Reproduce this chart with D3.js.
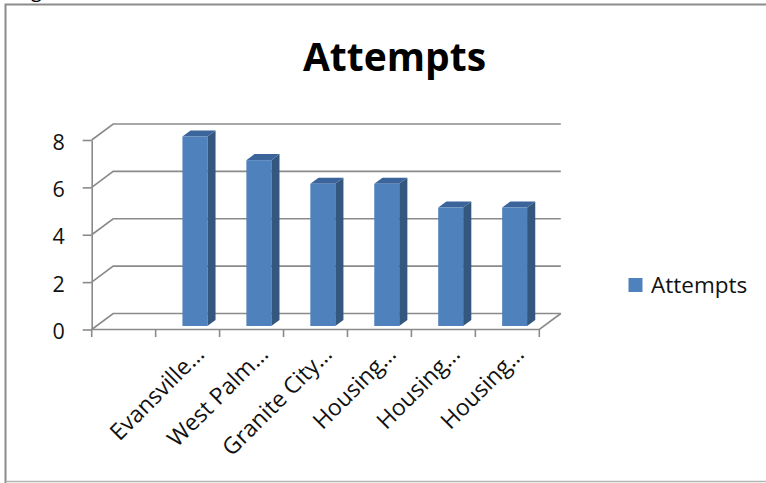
<!DOCTYPE html>
<html>
<head>
<meta charset="utf-8">
<script src="https://cdn.jsdelivr.net/npm/d3@7"></script>
<style>
  html, body { margin: 0; padding: 0; background: #fff; }
  svg { display: block; font-family: "Open Sans", "Liberation Sans", sans-serif; }
</style>
</head>
<body>
<svg id="chart" width="766" height="483"></svg>
<script>
// Chart data
const chartTitle = "Attempts";
const seriesName = "Attempts";
const categories = ["", "Evansville…", "West Palm…", "Granite City…", "Housing…", "Housing…", "Housing…"];
const attempts = [null, 8, 7, 6, 6, 5, 5];
const yTicks = [0, 2, 4, 6, 8];

const svg = d3.select("#chart");

// 3D projection of the plot box: depth offset of the back wall
const depth = { dx: 21.5, dy: -16 };
const barFront = 0.22, barBack = 0.6;       // bar depth as fractions of the box depth
const barStart = 0.345, barEnd = 0.735;     // bar extent across its category band

const x = d3.scaleBand()
  .domain(d3.range(categories.length))
  .range([91.7, 539.3])
  .padding(0);
const y = d3.scaleLinear().domain([0, 8]).range([329.5, 140]);

const gridColor = "#8a8a8a";

// Outer frame
svg.append("path")
  .attr("d", "M5.5,490 L5.5,4.5 L780,4.5")
  .attr("fill", "none").attr("stroke", "#8c8c8c").attr("stroke-width", 2);
svg.append("line")
  .attr("x1", 5.5).attr("x2", 780).attr("y1", 481.5).attr("y2", 481.5)
  .attr("stroke", "#b4b4b4").attr("stroke-width", 1.5);
// Tail of the preceding line of text above the chart frame
svg.append("text")
  .attr("x", 31).attr("y", -3)
  .attr("font-size", 20).attr("fill", "#000")
  .text("g");

// Title
svg.append("text")
  .attr("x", 394.5).attr("y", 71)
  .attr("text-anchor", "middle")
  .attr("font-size", 39).attr("font-weight", 700).attr("fill", "#000")
  .text(chartTitle);

// Walls and gridlines
const x0 = x.range()[0], x1 = x.range()[1];
const grid = svg.append("g").attr("fill", "none").attr("stroke", gridColor).attr("stroke-width", 1.6);
yTicks.forEach(t => {
  const yy = y(t);
  grid.append("path")
    .attr("d", `M${x0},${yy} L${x0 + depth.dx},${yy + depth.dy} L${x1 + depth.dx},${yy + depth.dy}`);
});
// Floor: front edge and right edge
grid.append("path")
  .attr("d", `M${x0},${y(0)} L${x1},${y(0)} L${x1 + depth.dx},${y(0) + depth.dy}`);

// Value axis
const yAxis = d3.axisLeft(y)
  .tickValues(yTicks)
  .tickSizeInner(9)
  .tickSizeOuter(0)
  .tickPadding(18);
const yg = svg.append("g").attr("transform", `translate(${x0},0)`).call(yAxis);
yg.select(".domain").attr("stroke", gridColor).attr("stroke-width", 1.6);
yg.selectAll(".tick line").attr("stroke", gridColor).attr("stroke-width", 1.6);
yg.selectAll(".tick text")
  .attr("font-size", 21.5).attr("font-family", "Open Sans")
  .attr("fill", "#111").attr("dy", "0.42em");

// Category axis: tick marks at band boundaries
const bounds = d3.range(categories.length + 1).map(i => x0 + i * x.step());
svg.append("g").selectAll("line").data(bounds).join("line")
  .attr("x1", d => d).attr("x2", d => d)
  .attr("y1", y(0)).attr("y2", y(0) + 7.5)
  .attr("stroke", gridColor).attr("stroke-width", 1.6);

svg.append("g").selectAll("text").data(categories).join("text")
  .attr("transform", (d, i) => `translate(${x(i) + x.bandwidth() / 2 + 18},${y(0) + 26}) rotate(-45)`)
  .attr("text-anchor", "end")
  .attr("font-size", 23).attr("fill", "#111")
  .text(d => d);

// Bars
const P = (px, py, f) => [px + f * depth.dx, py + f * depth.dy];
const bars = categories.map((c, i) => ({ i, v: attempts[i] })).filter(d => d.v != null);
const bg = svg.append("g");
bars.forEach(d => {
  const l = x(d.i) + barStart * x.step();
  const r = x(d.i) + barEnd * x.step();
  const top = y(d.v), bot = y(0);
  const poly = pts => "M" + pts.map(p => p.join(",")).join("L") + "Z";
  // right side
  bg.append("path")
    .attr("d", poly([P(r, top, barFront), P(r, top, barBack), P(r, bot, barBack), P(r, bot, barFront)]))
    .attr("fill", "#34577f");
  // top
  bg.append("path")
    .attr("d", poly([P(l, top, barFront), P(l, top, barBack), P(r, top, barBack), P(r, top, barFront)]))
    .attr("fill", "#3b649b");
  // front
  const [fx, fy] = P(l, top, barFront);
  const [fx2, fy2] = P(r, bot, barFront);
  bg.append("rect")
    .attr("x", fx).attr("y", fy)
    .attr("width", fx2 - fx).attr("height", fy2 - fy)
    .attr("fill", "#4f81bd");
});

// Legend
const lg = svg.append("g");
lg.append("rect").attr("x", 628.5).attr("y", 278).attr("width", 14).attr("height", 14).attr("fill", "#4f81bd");
lg.append("text").attr("x", 651).attr("y", 292.5)
  .attr("font-size", 22.5).attr("fill", "#111")
  .text(seriesName);
</script>
</body>
</html>
